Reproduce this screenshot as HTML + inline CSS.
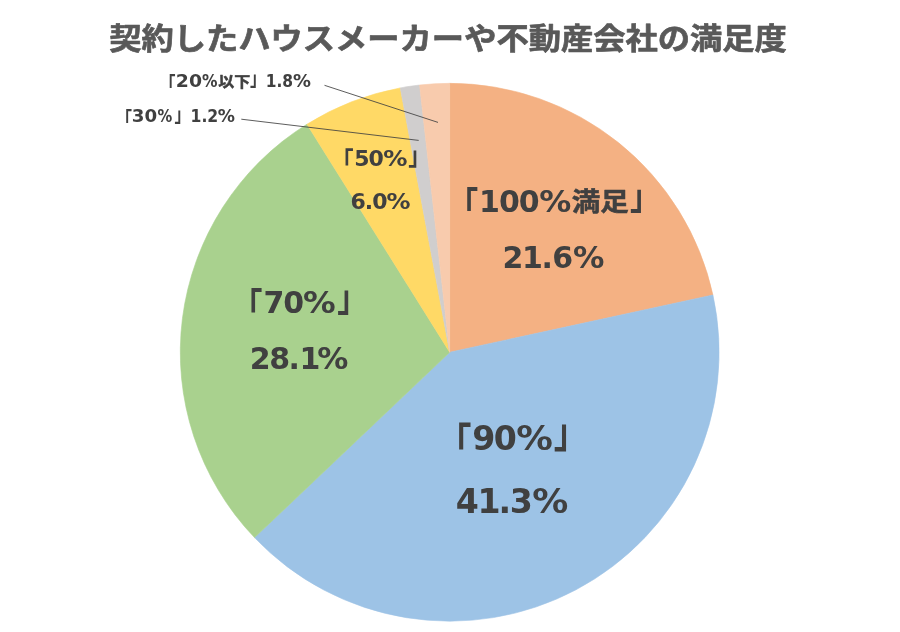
<!DOCTYPE html>
<html lang="ja">
<head>
<meta charset="utf-8">
<title>契約したハウスメーカーや不動産会社の満足度</title>
<style>
html,body{margin:0;padding:0;background:#fff;}
body{width:900px;height:632px;overflow:hidden;}
svg{display:block;}
text{font-family:"DejaVu Sans","Liberation Sans","Noto Sans CJK JP",sans-serif;font-weight:bold;fill:#404040;}
.jp{font-family:"Liberation Sans","Noto Sans CJK JP",sans-serif;}
.jk{stroke:#404040;stroke-width:0.5px;stroke-linejoin:round;}
.title{font-family:"Liberation Sans","Noto Sans CJK JP",sans-serif;fill:#595959;font-size:32.27px;}
</style>
</head>
<body>
<svg width="900" height="632" viewBox="0 0 900 632">
<rect width="900" height="632" fill="#ffffff"/>
<text class="title" transform="translate(448 48.9) scale(1 0.92)" text-anchor="middle" stroke="#595959" stroke-width="0.7" stroke-linejoin="round">契約したハウスメーカーや不動産会社の満足度</text>
<g>
<path d="M449.7 352.25L449.70 83.35A269.4 268.9 0 0 1 712.92 294.97Z" fill="#F4B183" stroke="#F4B183" stroke-width="0.6" stroke-linejoin="round"/>
<path d="M449.7 352.25L712.92 294.97A269.4 268.9 0 0 1 254.54 537.62Z" fill="#9DC3E6" stroke="#9DC3E6" stroke-width="0.6" stroke-linejoin="round"/>
<path d="M449.7 352.25L254.54 537.62A269.4 268.9 0 0 1 306.94 124.21Z" fill="#A9D18E" stroke="#A9D18E" stroke-width="0.6" stroke-linejoin="round"/>
<path d="M449.7 352.25L306.94 124.21A269.4 268.9 0 0 1 400.24 87.92Z" fill="#FFD966" stroke="#FFD966" stroke-width="0.6" stroke-linejoin="round"/>
<path d="M449.7 352.25L400.24 87.92A269.4 268.9 0 0 1 419.58 85.04Z" fill="#D0CECE" stroke="#D0CECE" stroke-width="0.6" stroke-linejoin="round"/>
<path d="M449.7 352.25L419.58 85.04A269.4 268.9 0 0 1 449.70 83.35Z" fill="#F8CBAD" stroke="#F8CBAD" stroke-width="0.6" stroke-linejoin="round"/>
</g>
<line x1="324.5" y1="85.3" x2="438" y2="122.4" stroke="#404040" stroke-width="0.85"/>
<line x1="241.3" y1="119.2" x2="418.7" y2="140.4" stroke="#404040" stroke-width="0.85"/>
<text><tspan class="jp" x="447.71" y="218.7" font-size="37.09" textLength="30.45" lengthAdjust="spacingAndGlyphs">「</tspan><tspan x="479.12 499.06 518.86" y="211.9" font-size="30">100</tspan><tspan x="539.27" y="211.9" font-size="30" textLength="32.05" lengthAdjust="spacingAndGlyphs">%</tspan><tspan class="jp jk" x="571.78" y="210.64" font-size="26.52" textLength="57.2" lengthAdjust="spacingAndGlyphs">満足</tspan><tspan class="jp" x="630.05" y="209.62" font-size="36.78" textLength="30.45" lengthAdjust="spacingAndGlyphs">」</tspan></text>
<text><tspan x="502.53 521.92 541.54 552.14" y="268.1" font-size="30">21.6</tspan><tspan x="572.99" y="268.1" font-size="30" textLength="31.4" lengthAdjust="spacingAndGlyphs">%</tspan></text>
<text><tspan class="jp" x="231.91" y="320.17" font-size="37.87" textLength="30.45" lengthAdjust="spacingAndGlyphs">「</tspan><tspan x="263.49 283.26" y="312.9" font-size="30">70</tspan><tspan x="302.95" y="312.9" font-size="30" textLength="32.69" lengthAdjust="spacingAndGlyphs">%</tspan><tspan class="jp" x="337.35" y="310.64" font-size="37.56" textLength="30.45" lengthAdjust="spacingAndGlyphs">」</tspan></text>
<text><tspan x="249.63 269.17 288.54 299.62" y="368.8" font-size="30">28.1</tspan><tspan x="317.3" y="368.8" font-size="30" textLength="31.08" lengthAdjust="spacingAndGlyphs">%</tspan></text>
<text><tspan class="jp" x="437.19" y="457.73" font-size="41.47" textLength="34.24" lengthAdjust="spacingAndGlyphs">「</tspan><tspan x="472.28 493.81" y="449.8" font-size="33.2">90</tspan><tspan x="516.22" y="449.8" font-size="33.2" textLength="36.64" lengthAdjust="spacingAndGlyphs">%</tspan><tspan class="jp" x="553.64" y="447.24" font-size="40.85" textLength="34.24" lengthAdjust="spacingAndGlyphs">」</tspan></text>
<text><tspan x="455.81 477.46 498.61 509.68" y="512.5" font-size="33.2">41.3</tspan><tspan x="532.34" y="512.5" font-size="33.2" textLength="36.1" lengthAdjust="spacingAndGlyphs">%</tspan></text>
<text><tspan class="jp" x="331.19" y="171.2" font-size="26.29" textLength="22.37" lengthAdjust="spacingAndGlyphs">「</tspan><tspan x="354.3 368.55" y="166.2" font-size="22">50</tspan><tspan x="383.22" y="166.2" font-size="22" textLength="24.25" lengthAdjust="spacingAndGlyphs">%</tspan><tspan class="jp" x="408.37" y="165.08" font-size="26.29" textLength="22.37" lengthAdjust="spacingAndGlyphs">」</tspan></text>
<text><tspan x="350.54 364.75 372.35" y="209.1" font-size="22">6.0</tspan><tspan x="386.63" y="209.1" font-size="22" textLength="24.03" lengthAdjust="spacingAndGlyphs">%</tspan></text>
<text><tspan class="jp" x="159.46" y="91.77" font-size="20.97" textLength="16" lengthAdjust="spacingAndGlyphs">「</tspan><tspan x="175.81" y="86.9" font-size="17.5" textLength="26.19" lengthAdjust="spacingAndGlyphs">20</tspan><tspan x="202.1" y="86.9" font-size="17.5" textLength="15.49" lengthAdjust="spacingAndGlyphs">%</tspan><tspan class="jp jk" x="218.18" y="86.92" font-size="15.16" textLength="32" lengthAdjust="spacingAndGlyphs">以下</tspan><tspan class="jp" x="250.05" y="86.43" font-size="20.34" textLength="16" lengthAdjust="spacingAndGlyphs">」</tspan><tspan x="265.66" y="86.9" font-size="17.5" textLength="27.4" lengthAdjust="spacingAndGlyphs">1.8</tspan><tspan x="293.02" y="86.9" font-size="17.5" textLength="17.95" lengthAdjust="spacingAndGlyphs">%</tspan></text>
<text><tspan class="jp" x="116.06" y="127.17" font-size="20.97" textLength="16" lengthAdjust="spacingAndGlyphs">「</tspan><tspan x="131.78" y="122.3" font-size="17.5" textLength="25.39" lengthAdjust="spacingAndGlyphs">30</tspan><tspan x="157.43" y="122.3" font-size="17.5" textLength="14.74" lengthAdjust="spacingAndGlyphs">%</tspan><tspan class="jp" x="174.55" y="121.83" font-size="20.34" textLength="16" lengthAdjust="spacingAndGlyphs">」</tspan><tspan x="190.53" y="122.3" font-size="17.5" textLength="27.73" lengthAdjust="spacingAndGlyphs">1.2</tspan><tspan x="217.75" y="122.3" font-size="17.5" textLength="17.2" lengthAdjust="spacingAndGlyphs">%</tspan></text>
</svg>
</body>
</html>
